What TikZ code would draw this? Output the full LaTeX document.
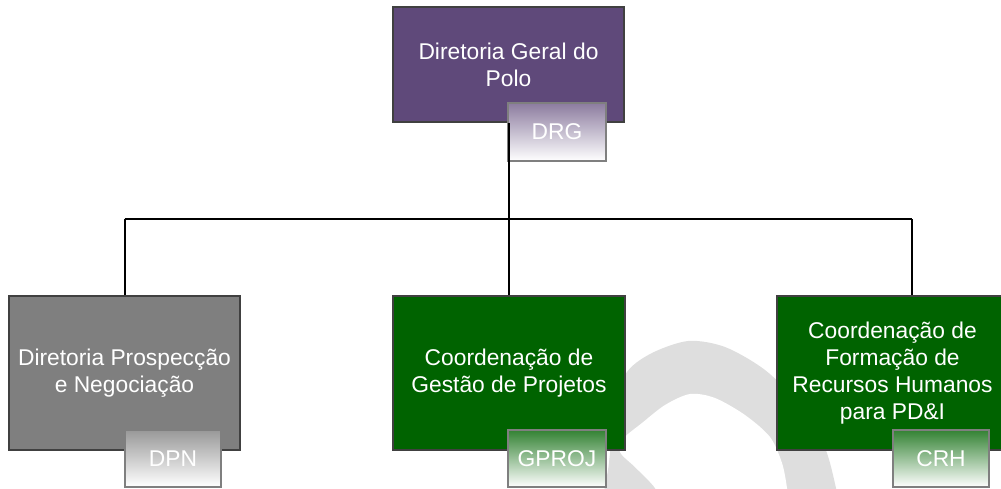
\documentclass[tikz,border=0pt]{standalone}
\usepackage{fontspec}
\setmainfont{Liberation Sans}
\definecolor{drgpurple}{HTML}{5F497A}
\definecolor{boxgreen}{HTML}{006300}
\definecolor{boxgray}{HTML}{7F7F7F}
\definecolor{boxborder}{HTML}{404040}
\definecolor{lblborder}{HTML}{7F7F7F}
\definecolor{ringgray}{HTML}{DEDEDE}
\begin{document}
\begin{tikzpicture}[x=1pt,y=-1pt,
  txt/.style={text=white, font=\fontsize{22.8}{27}\selectfont},
  unitbox/.style={txt, draw=boxborder, line width=1.5pt, inner sep=0pt, align=center},
  tagbox/.style={txt, draw=lblborder, line width=1.5pt, inner sep=0pt, align=center, minimum height=57pt, bottom color=white},
  link/.style={draw=black, line width=2pt}]
\useasboundingbox (0,0) rectangle (1001,488);
\clip (0,0) rectangle (1001,488);
% watermark ring
\fill[ringgray] plot[smooth] coordinates {(600,510) (608,470) (614,420) (625,375) (650,354) (688,341) (725,347) (765,370) (800,405) (825,448) (836,488) (840,510)} -- cycle;
\fill[white] plot[smooth] coordinates {(665,510) (655,488) (636,468) (620,452) (624,438) (642,423) (665,405) (690,394) (715,398) (745,415) (770,437) (782,463) (787,488) (789,510)} -- cycle;
% boxes
\node[unitbox, fill=drgpurple, minimum width=231pt, minimum height=115pt] (drg) at (508.5,64.5) {Diretoria Geral do\\Polo};
\node[tagbox, top color=drgpurple!72!white, minimum width=98pt, minimum height=58pt] (drgl) at (557,132) {DRG};
\node[unitbox, fill=boxgray, minimum width=231pt, minimum height=154pt] (dpn) at (124.5,373) {Diretoria Prospecção\\e Negociação};
\node[tagbox, top color=boxgray!80!white, minimum width=96pt] (dpnl) at (173,458.5) {DPN};
\node[unitbox, fill=boxgreen, minimum width=232pt, minimum height=154pt] (gproj) at (509,373) {Coordenação de\\Gestão de Projetos};
\node[tagbox, top color=boxgreen!80!white, minimum width=98pt] (gprojl) at (557,458.5) {GPROJ};
\node[unitbox, fill=boxgreen, minimum width=231pt, minimum height=154pt] (crh) at (892.5,373) {Coordenação de\\Formação de\\Recursos Humanos\\para PD\&I};
\node[tagbox, top color=boxgreen!80!white, minimum width=96pt] (crhl) at (941,458.5) {CRH};
% connectors
\coordinate (barL) at (124.5,219);
\coordinate (barR) at (912,219);
\draw[link] (drg.south) -- (drg.south |- barL);
\draw[link] (barL) -- (barR);
\draw[link] (barL) -- (dpn.north);
\draw[link] (gproj.north |- barL) -- (gproj.north);
\draw[link] (barR) -- (barR |- crh.north);
\end{tikzpicture}
\end{document}
